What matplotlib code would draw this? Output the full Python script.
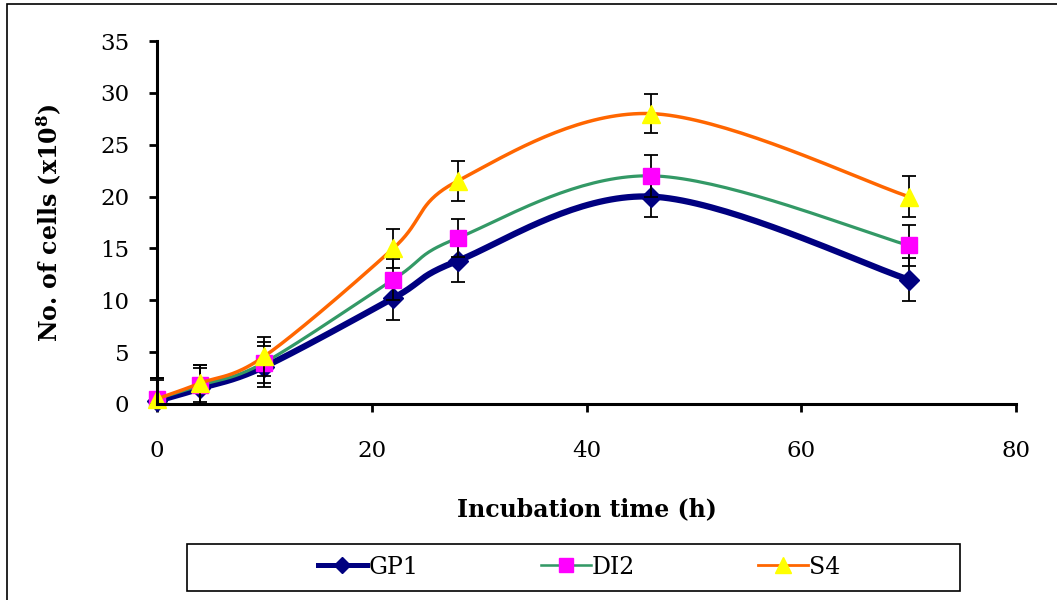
import numpy as np
import matplotlib
matplotlib.use("Agg")
import matplotlib.pyplot as plt
from matplotlib.lines import Line2D
from matplotlib.patches import Rectangle

plt.rcParams['font.family'] = ['DejaVu Serif']
plt.rcParams['mathtext.fontset'] = 'dejavuserif'

# data
hours = [0, 4, 10, 22, 28, 46, 70]
gp1 = [0.3, 1.5, 3.6, 10.2, 13.8, 20.0, 12.0]
di2 = [0.5, 1.8, 4.0, 12.0, 16.0, 22.0, 15.3]
s4 = [0.5, 2.0, 4.6, 15.0, 21.5, 28.0, 20.0]
gp1_err = [2.0, 2.0, 2.0, 2.1, 2.0, 2.0, 2.1]
di2_err = [2.0, 2.0, 2.0, 2.0, 1.8, 2.0, 2.0]
s4_err = [2.0, 1.8, 1.9, 1.9, 1.9, 1.9, 2.0]

series = [
    ("GP1", gp1, gp1_err, "#000080", 4.5, "D", 10, "#000080"),
    ("DI2", di2, di2_err, "#339966", 2.3, "s", 12, "#FF00FF"),
    ("S4", s4, s4_err, "#FF6600", 2.5, "^", 13, "#FFFF00"),
]


def smooth(x, y, n=40):
    """Excel-like smoothed line (cubic bezier through the points)"""
    x = np.asarray(x, float)
    y = np.asarray(y, float)
    px = np.concatenate([[x[0]], x, [x[-1]]])
    py = np.concatenate([[y[0]], y, [y[-1]]])
    xs, ys = [], []
    t = np.linspace(0, 1, n)
    for i in range(len(x) - 1):
        p0 = np.array([px[i + 1], py[i + 1]])
        p3 = np.array([px[i + 2], py[i + 2]])
        c1 = p0 + (np.array([px[i + 2], py[i + 2]]) - np.array([px[i], py[i]])) / 6
        c2 = p3 - (np.array([px[i + 3], py[i + 3]]) - np.array([px[i + 1], py[i + 1]])) / 6
        pts = ((1 - t) ** 3)[:, None] * p0 + (3 * (1 - t) ** 2 * t)[:, None] * c1 \
            + (3 * (1 - t) * t ** 2)[:, None] * c2 + (t ** 3)[:, None] * p3
        xs.extend(pts[:, 0])
        ys.extend(pts[:, 1])
    return xs, ys


fig = plt.figure(figsize=(10.57, 6.0), dpi=100)
ax = fig.add_axes([157 / 1057, 1 - 404 / 600, 859 / 1057, 363 / 600])

# outer chart border
fig.patches.append(Rectangle((7 / 1057, -0.01), 1.0, 1 - 4 / 600 + 0.01,
                             transform=fig.transFigure, fill=False,
                             edgecolor='black', linewidth=1.2))

handles = []
for k, (name, vals, err, col, lw, mk, ms, mcol) in enumerate(series):
    sx, sy = smooth(hours, vals)
    ax.plot(sx, sy, color=col, linewidth=lw, zorder=2 + k * 3, clip_on=False,
            solid_capstyle='butt')
    # error bars stop at the x axis, like the original
    lower = np.minimum(err, vals)
    ax.errorbar(hours, vals, yerr=[lower, err], fmt='none', ecolor='black',
                elinewidth=1.3, capsize=5, capthick=1.3, zorder=3 + k * 3, clip_on=False)
    ax.plot(hours, vals, linestyle='none', marker=mk, markersize=ms,
            markerfacecolor=mcol, markeredgecolor=mcol, zorder=4 + k * 3, clip_on=False)
    handles.append(Line2D([], [], color=col, linewidth=lw * 0.8, marker=mk, markersize=ms * 0.85,
                          markerfacecolor=mcol, markeredgecolor=mcol, label=name))

ax.set_xlim(0, 80)
ax.set_ylim(0, 35)
ax.set_xticks([0, 20, 40, 60, 80])
ax.set_yticks([0, 5, 10, 15, 20, 25, 30, 35])
for s in ['top', 'right']:
    ax.spines[s].set_visible(False)
for s in ['left', 'bottom']:
    ax.spines[s].set_linewidth(2.2)
    ax.spines[s].set_zorder(20)
ax.tick_params(axis='both', direction='out', length=6, width=2, labelsize=16.5)
ax.tick_params(axis='x', pad=20)
ax.tick_params(axis='y', pad=14)

ax.set_xlabel('Incubation time (h)', fontsize=17, fontweight='bold', labelpad=25.5)
ax.set_ylabel(r'No. of cells (x10$^{\mathbf{8}}$)', fontsize=17, fontweight='bold', labelpad=26)

# legend box drawn separately, entries centred inside it
fig.patches.append(Rectangle((187 / 1057, 1 - 591 / 600), (960 - 187) / 1057, 47 / 600,
                             transform=fig.transFigure, fill=False,
                             edgecolor='black', linewidth=1.2))
leg = fig.legend(handles=handles, loc='center', ncol=3,
                 bbox_to_anchor=(579 / 1057, 1 - 567 / 600),
                 fontsize=17, frameon=False, handlelength=2.1,
                 handletextpad=0.05, columnspacing=5.2, borderaxespad=0)

fig.savefig('out.png', dpi=100)
